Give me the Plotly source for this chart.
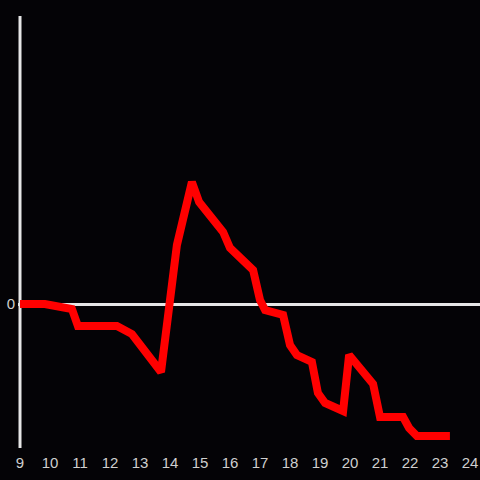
import plotly.graph_objects as go

# hour of day and value
hours = [9.0, 9.83, 10.73, 10.93, 12.23, 12.73, 13.7, 14.23, 14.73, 14.97,
         15.77, 16.0, 16.77, 17.0, 17.17, 17.77, 18.0, 18.23, 18.73, 18.93,
         19.17, 19.77, 19.97, 20.77, 21.0, 21.77, 21.97, 22.23, 23.33]
values = [0.0, 0.0, -0.5, -2.2, -2.2, -3.0, -6.8, 5.9, 12.2, 10.2,
          7.2, 5.6, 3.4, 0.4, -0.6, -1.1, -4.1, -5.1, -5.8, -8.9,
          -9.9, -10.7, -5.1, -8.0, -11.3, -11.3, -12.4, -13.2, -13.2]
x_ticks = list(range(9, 25))

bg = "#040306"
axis_col = "#e6e6e6"

fig = go.Figure()
fig.add_trace(go.Scatter(x=hours, y=values, mode="lines",
                         line=dict(color="#ff0000", width=8),
                         hoverinfo="skip"))

# vertical axis line sits right on x=9, under the red trace
fig.add_shape(type="line", x0=9, x1=9, y0=0, y1=1, xref="x", yref="paper",
              line=dict(color=axis_col, width=3), layer="below")

fig.update_layout(
    width=480, height=480,
    margin=dict(l=18, r=0, t=16, b=32),
    paper_bgcolor=bg, plot_bgcolor=bg,
    showlegend=False,
    font=dict(family="Liberation Sans, Arial, sans-serif", size=15, color="#cfcfcf"),
    xaxis=dict(range=[8.933, 24.333], tickvals=x_ticks, showgrid=False,
               zeroline=False, showline=False, ticks="", ticklabelstandoff=4),
    yaxis=dict(range=[-14.4, 28.8], tickvals=[0], ticktext=["0"], showgrid=False,
               zeroline=True, zerolinecolor=axis_col, zerolinewidth=3,
               showline=False, ticks="", ticklabelstandoff=2),
)

# drop the page margin so the 480px figure fills the window
fig.write_html("out.html", config={"displayModeBar": False},
               post_script="document.body.style.margin='0';document.body.style.background='%s';" % bg)
